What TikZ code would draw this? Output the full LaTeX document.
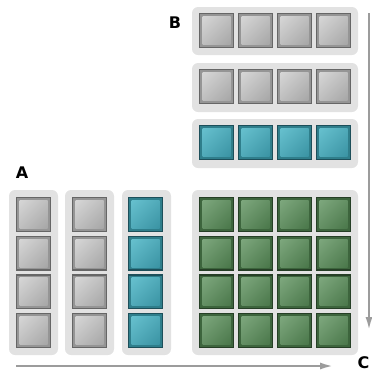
\documentclass[tikz,border=0pt]{standalone}
\usepackage{fontspec}
\setmainfont{DejaVu Sans}
\usetikzlibrary{arrows.meta,shadings,calc}
\definecolor{contfill}{HTML}{E2E2E2}
\definecolor{arrowgray}{HTML}{9C9C9C}
% gray
\definecolor{gOut}{HTML}{666666}\definecolor{gMid}{HTML}{959595}
\definecolor{gUL}{HTML}{D6D6D6}\definecolor{gLR}{HTML}{A6A6A6}
% teal
\definecolor{tOut}{HTML}{1D4F5A}\definecolor{tMid}{HTML}{2F7E8B}
\definecolor{tUL}{HTML}{66C0CE}\definecolor{tLR}{HTML}{3A93A3}
% green
\definecolor{vOut}{HTML}{263F26}\definecolor{vMid}{HTML}{3D653D}
\definecolor{vUL}{HTML}{7DA77D}\definecolor{vLR}{HTML}{4A774A}
\tikzset{
  container/.style={fill=contfill, rounded corners=6pt},
  flowarrow/.style={draw=arrowgray, line width=2.5pt, -{Latex[length=14pt,width=7pt]}},
  letter/.style={font=\bfseries\fontsize{16}{16}\selectfont, inner sep=0pt}
}
% #1 x, #2 y (top-left), #3 prefix colour
\newcommand\bsq[3]{%
  \fill[#3Out] (#1,#2) rectangle ++(35,35);
  \fill[#3Mid] ($(#1,#2)+(1.2,1.2)$) rectangle ++(32.6,32.6);
  \shade[upper left=#3UL, lower right=#3LR, upper right=#3UL!50!#3LR, lower left=#3UL!50!#3LR]
    ($(#1,#2)+(3.5,3.5)$) rectangle ++(28,28);
}
\begin{document}
\begin{tikzpicture}[x=1pt,y=-1pt]
\useasboundingbox (0,0) rectangle (372,373);
% containers column A
\fill[container] (9,190) rectangle (58,355);
\fill[container] (65,190) rectangle (114,355);
\fill[container] (122,190) rectangle (171,355);
% containers B
\fill[container] (192,7) rectangle (358,55);
\fill[container] (192,63) rectangle (358,112);
\fill[container] (192,119) rectangle (358,168);
% container C
\fill[container] (192,190) rectangle (358,355);
% column squares
\foreach \r in {0,1,2,3}{
  \pgfmathsetmacro\yy{197+38.67*\r}
  \bsq{16}{\yy}{g}
  \bsq{72}{\yy}{g}
  \bsq{128}{\yy}{t}
}
% row squares
\foreach \c in {0,1,2,3}{
  \pgfmathsetmacro\xx{199+39*\c}
  \bsq{\xx}{13}{g}
  \bsq{\xx}{69}{g}
  \bsq{\xx}{125}{t}
  \foreach \r in {0,1,2,3}{
    \pgfmathsetmacro\yy{197+38.67*\r}
    \bsq{\xx}{\yy}{v}
  }
}
% labels
\node[letter] (A) at (22,172.5) {A};
\node[letter] (B) at (175,22.5) {B};
\node[letter] (C) at (363.5,362.5) {C};
% arrows
\coordinate (vstart) at (369,13);
\coordinate (vend) at (369,331);
\coordinate (hstart) at (16,366);
\coordinate (hend) at (334,366);
\draw[flowarrow] (vstart) -- (vend);
\draw[flowarrow] (hstart) -- (hend);
\end{tikzpicture}
\end{document}
